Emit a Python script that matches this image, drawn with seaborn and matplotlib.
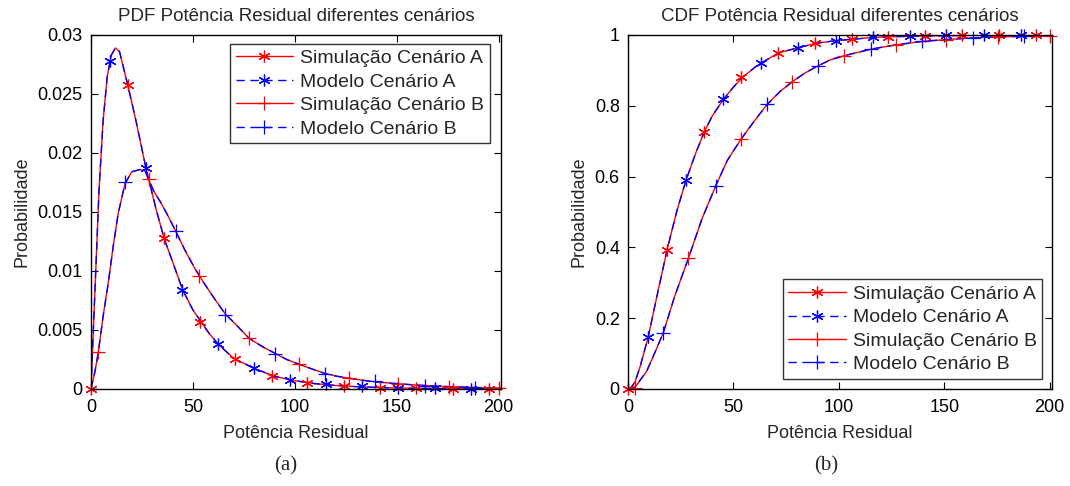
import numpy as np
import pandas as pd
import seaborn as sns
import matplotlib
matplotlib.use("Agg")
import matplotlib.pyplot as plt
from matplotlib.lines import Line2D

# ---------------- data ----------------
# PDF curves
pdf_a_x = [0, 2, 4, 6, 8, 10, 12, 14, 18, 22, 27, 32, 36, 40, 45, 50, 54, 58, 63,
           70, 80, 90, 100, 110, 120, 130, 140, 150, 160, 175, 190, 201]
pdf_a_y = [0, 0.0085, 0.0170, 0.0228, 0.0265, 0.0283, 0.0289, 0.0286, 0.0258, 0.0228,
           0.0187, 0.0152, 0.0127, 0.0108, 0.0084, 0.0067, 0.0057, 0.0047, 0.0037,
           0.0026, 0.00175, 0.00108, 0.0007, 0.00045, 0.0003, 0.0002, 0.00013,
           0.00009, 0.00006, 0.00003, 0.00002, 0.00001]
pdf_b_x = [0, 2, 3.6, 6, 8.5, 11, 13.4, 16.7, 20, 24, 26.5, 28.4, 31, 34.6, 38, 41.5,
           46, 51, 55, 60, 65.7, 72, 77.5, 84, 90.5, 96, 102, 110, 115, 120, 127, 135,
           140, 150, 160, 170, 180, 190, 201]
pdf_b_y = [0, 0.0015, 0.0031, 0.0062, 0.0090, 0.0122, 0.0149, 0.0174, 0.0184, 0.0186,
           0.0185, 0.0177, 0.0167, 0.0157, 0.0146, 0.0134, 0.0118, 0.0102, 0.0091,
           0.0078, 0.0064, 0.0053, 0.0043, 0.0036, 0.0030, 0.0025, 0.0021, 0.0016,
           0.0013, 0.0011, 0.0009, 0.0007, 0.0006, 0.00045, 0.00033, 0.00024, 0.00017,
           0.00012, 0.00008]

# PDF markers
pdf_sim_a_mx = [0, 18.3, 35.9, 53.4, 70.8, 88.6, 106.2, 124.1, 141.7, 159.6, 177.6, 195.3]
pdf_sim_a_my = [0, 0.0258, 0.0128, 0.0057, 0.0025, 0.0011, 0.0005, 0.00025, 0.00012,
                0.00006, 0.00003, 0.00001]
pdf_mod_a_mx = [9.3, 27, 44.8, 62.4, 80, 97.5, 115.4, 133, 150.7, 168.6, 186.6]
pdf_mod_a_my = [0.0278, 0.0187, 0.0084, 0.0038, 0.00175, 0.00076, 0.00045, 0.00025,
                0.00009, 0.00005, 0.00002]
pdf_sim_b_mx = [3.6, 28.4, 52.9, 77.5, 102, 126.4, 150.8, 175.4, 200]
pdf_sim_b_my = [0.0031, 0.0178, 0.0096, 0.0043, 0.0021, 0.0009, 0.00045, 0.00018, 0.00008]
pdf_mod_b_mx = [16.7, 41.5, 65.7, 90.5, 115, 139.5, 164, 188.6]
pdf_mod_b_my = [0.0175, 0.0134, 0.0063, 0.0030, 0.0013, 0.0007, 0.00028, 0.00012]

# CDF curves
cdf_a_x = [0, 1.5, 3.3, 5.7, 9.6, 13.6, 18.5, 23, 27.5, 32, 36.2, 40, 45.2, 50, 54.2,
           60, 62.9, 71.6, 80.7, 89.1, 98.4, 106.5, 116, 124, 140, 160, 180, 201]
cdf_a_y = [0, 0.005, 0.02, 0.063, 0.148, 0.26, 0.393, 0.50, 0.59, 0.665, 0.727, 0.772,
           0.818, 0.853, 0.880, 0.908, 0.920, 0.950, 0.964, 0.9765, 0.984, 0.988,
           0.993, 0.995, 0.997, 0.999, 1.0, 1.0]
cdf_b_x = [0, 3.3, 8.8, 12.5, 16.7, 22, 28.6, 35, 41.6, 47, 53.6, 60, 66, 72, 77.9, 84,
           90.2, 96, 102.5, 115.2, 126.9, 139.6, 151, 163.8, 175, 188, 201]
cdf_b_y = [0, 0.005, 0.05, 0.10, 0.159, 0.26, 0.369, 0.48, 0.574, 0.645, 0.706, 0.758,
           0.804, 0.84, 0.868, 0.893, 0.913, 0.93, 0.9415, 0.960, 0.972, 0.982, 0.987,
           0.992, 0.995, 0.996, 0.998]

# CDF markers
cdf_sim_a_mx = [0, 18.3, 35.8, 53.5, 71, 88.5, 106, 123.5, 141, 158.5, 176, 193.5]
cdf_sim_a_my = [0, 0.393, 0.727, 0.880, 0.950, 0.9765, 0.988, 0.995, 0.998, 0.999, 1.0, 1.0]
cdf_mod_a_mx = [9.6, 27.5, 45.2, 62.9, 80.7, 98.4, 116, 133.5, 151, 169, 186.5]
cdf_mod_a_my = [0.148, 0.590, 0.818, 0.920, 0.964, 0.984, 0.993, 0.997, 0.999, 1.0, 1.0]
cdf_sim_b_mx = [3.5, 28.6, 53.6, 77.9, 102.5, 126.9, 151, 175.5, 200]
cdf_sim_b_my = [0.003, 0.369, 0.706, 0.868, 0.9415, 0.972, 0.987, 0.995, 0.998]
cdf_mod_b_mx = [16.7, 41.7, 66, 90.2, 115.2, 139.6, 163.8, 188]
cdf_mod_b_my = [0.159, 0.574, 0.804, 0.913, 0.960, 0.982, 0.992, 0.996]

labels = ["Simulação Cenário A", "Modelo Cenário A", "Simulação Cenário B", "Modelo Cenário B"]
titles = ["PDF Potência Residual diferentes cenários", "CDF Potência Residual diferentes cenários"]
xlabel = "Potência Residual"
ylabel = "Probabilidade"
captions = ["(a)", "(b)"]

# ---------------- style ----------------
sns.set_theme(style="white")
plt.rcParams["font.family"] = ["Liberation Sans", "DejaVu Sans"]
plt.rcParams["axes.linewidth"] = 1.0
plt.rcParams["xtick.direction"] = "in"
plt.rcParams["ytick.direction"] = "in"

RED = "#ff0000"
BLUE = "#0000ff"
FS = 13
DASH = (0, (6, 4))
STAR = (6, 2, 0)

fig = plt.figure(figsize=(10.7, 4.86), dpi=100)
ax1 = fig.add_axes([0.085, 0.1996, 0.383, 0.7284])
ax2 = fig.add_axes([0.587, 0.1996, 0.396, 0.7284])

MK = dict(ls="none", mew=0.9, clip_on=False)


def draw(ax, ax_, ay_, bx_, by_, sa, ma, sb, mb):
    dfa = pd.DataFrame({"x": ax_, "y": ay_})
    dfb = pd.DataFrame({"x": bx_, "y": by_})
    sns.lineplot(data=dfa, x="x", y="y", ax=ax, color=RED, lw=1.0, estimator=None, sort=False)
    sns.lineplot(data=dfa, x="x", y="y", ax=ax, color=BLUE, lw=1.0, estimator=None,
                 sort=False, linestyle=DASH)
    sns.lineplot(data=dfb, x="x", y="y", ax=ax, color=RED, lw=1.0, estimator=None, sort=False)
    sns.lineplot(data=dfb, x="x", y="y", ax=ax, color=BLUE, lw=1.0, estimator=None,
                 sort=False, linestyle=DASH)
    ax.plot(sa[0], sa[1], marker=STAR, ms=8.5, color=RED, **MK)
    ax.plot(ma[0], ma[1], marker=STAR, ms=8.5, color=BLUE, **MK)
    ax.plot(sb[0], sb[1], marker="+", ms=10, color=RED, **MK)
    ax.plot(mb[0], mb[1], marker="+", ms=10, color=BLUE, **MK)


draw(ax1, pdf_a_x, pdf_a_y, pdf_b_x, pdf_b_y,
     (pdf_sim_a_mx, pdf_sim_a_my), (pdf_mod_a_mx, pdf_mod_a_my),
     (pdf_sim_b_mx, pdf_sim_b_my), (pdf_mod_b_mx, pdf_mod_b_my))
draw(ax2, cdf_a_x, cdf_a_y, cdf_b_x, cdf_b_y,
     (cdf_sim_a_mx, cdf_sim_a_my), (cdf_mod_a_mx, cdf_mod_a_my),
     (cdf_sim_b_mx, cdf_sim_b_my), (cdf_mod_b_mx, cdf_mod_b_my))

handles = [
    Line2D([], [], color=RED, lw=1.0, marker=STAR, ms=8.5, mew=0.9),
    Line2D([], [], color=BLUE, lw=1.0, ls=DASH, marker=STAR, ms=8.5, mew=0.9),
    Line2D([], [], color=RED, lw=1.0, marker="+", ms=10, mew=0.9),
    Line2D([], [], color=BLUE, lw=1.0, ls=DASH, marker="+", ms=10, mew=0.9),
]

for i, ax in enumerate([ax1, ax2]):
    ax.set_xlim(0, 201)
    ax.set_xticks([0, 50, 100, 150, 200])
    ax.set_xticklabels(["0", "50", "100", "150", "200"])
    ax.tick_params(axis="both", which="both", direction="in", length=5, width=0.8,
                   top=True, right=True, bottom=True, left=True, labelsize=FS,
                   colors="black")
    ax.tick_params(axis="x", pad=7)
    ax.tick_params(axis="y", pad=6)
    for s in ax.spines.values():
        s.set_color("black")
        s.set_linewidth(1.0)
    ax.set_title(titles[i], fontsize=13.5, pad=10)
    ax.set_xlabel(xlabel, fontsize=FS, labelpad=7)
    ax.set_ylabel(ylabel, fontsize=FS, labelpad=5)
    ax.grid(False)

ax1.set_ylim(0, 0.03)
ax1.set_yticks([0, 0.005, 0.01, 0.015, 0.02, 0.025, 0.03])
ax1.set_yticklabels(["0", "0.005", "0.01", "0.015", "0.02", "0.025", "0.03"])
ax2.set_ylim(0, 1)
ax2.set_yticks([0, 0.2, 0.4, 0.6, 0.8, 1])
ax2.set_yticklabels(["0", "0.2", "0.4", "0.6", "0.8", "1"])

leg_kw = dict(fontsize=14, frameon=True, fancybox=False, edgecolor="black",
              handlelength=2.95, handletextpad=0.35, borderpad=0.3, labelspacing=0.3,
              borderaxespad=0.0)
l1 = ax1.legend(handles, labels, loc="upper right", bbox_to_anchor=(0.973, 0.975), **leg_kw)
l2 = ax2.legend(handles, labels, loc="lower right", bbox_to_anchor=(0.978, 0.028), **leg_kw)
for l in (l1, l2):
    l.get_frame().set_linewidth(1.0)

for cx, cap in zip([286, 826], captions):
    fig.text(cx / 1070, 1 - 466 / 486, cap, ha="center", va="center", fontsize=15,
             family=["Liberation Serif", "DejaVu Serif"])

fig.savefig("out.png", dpi=100)
